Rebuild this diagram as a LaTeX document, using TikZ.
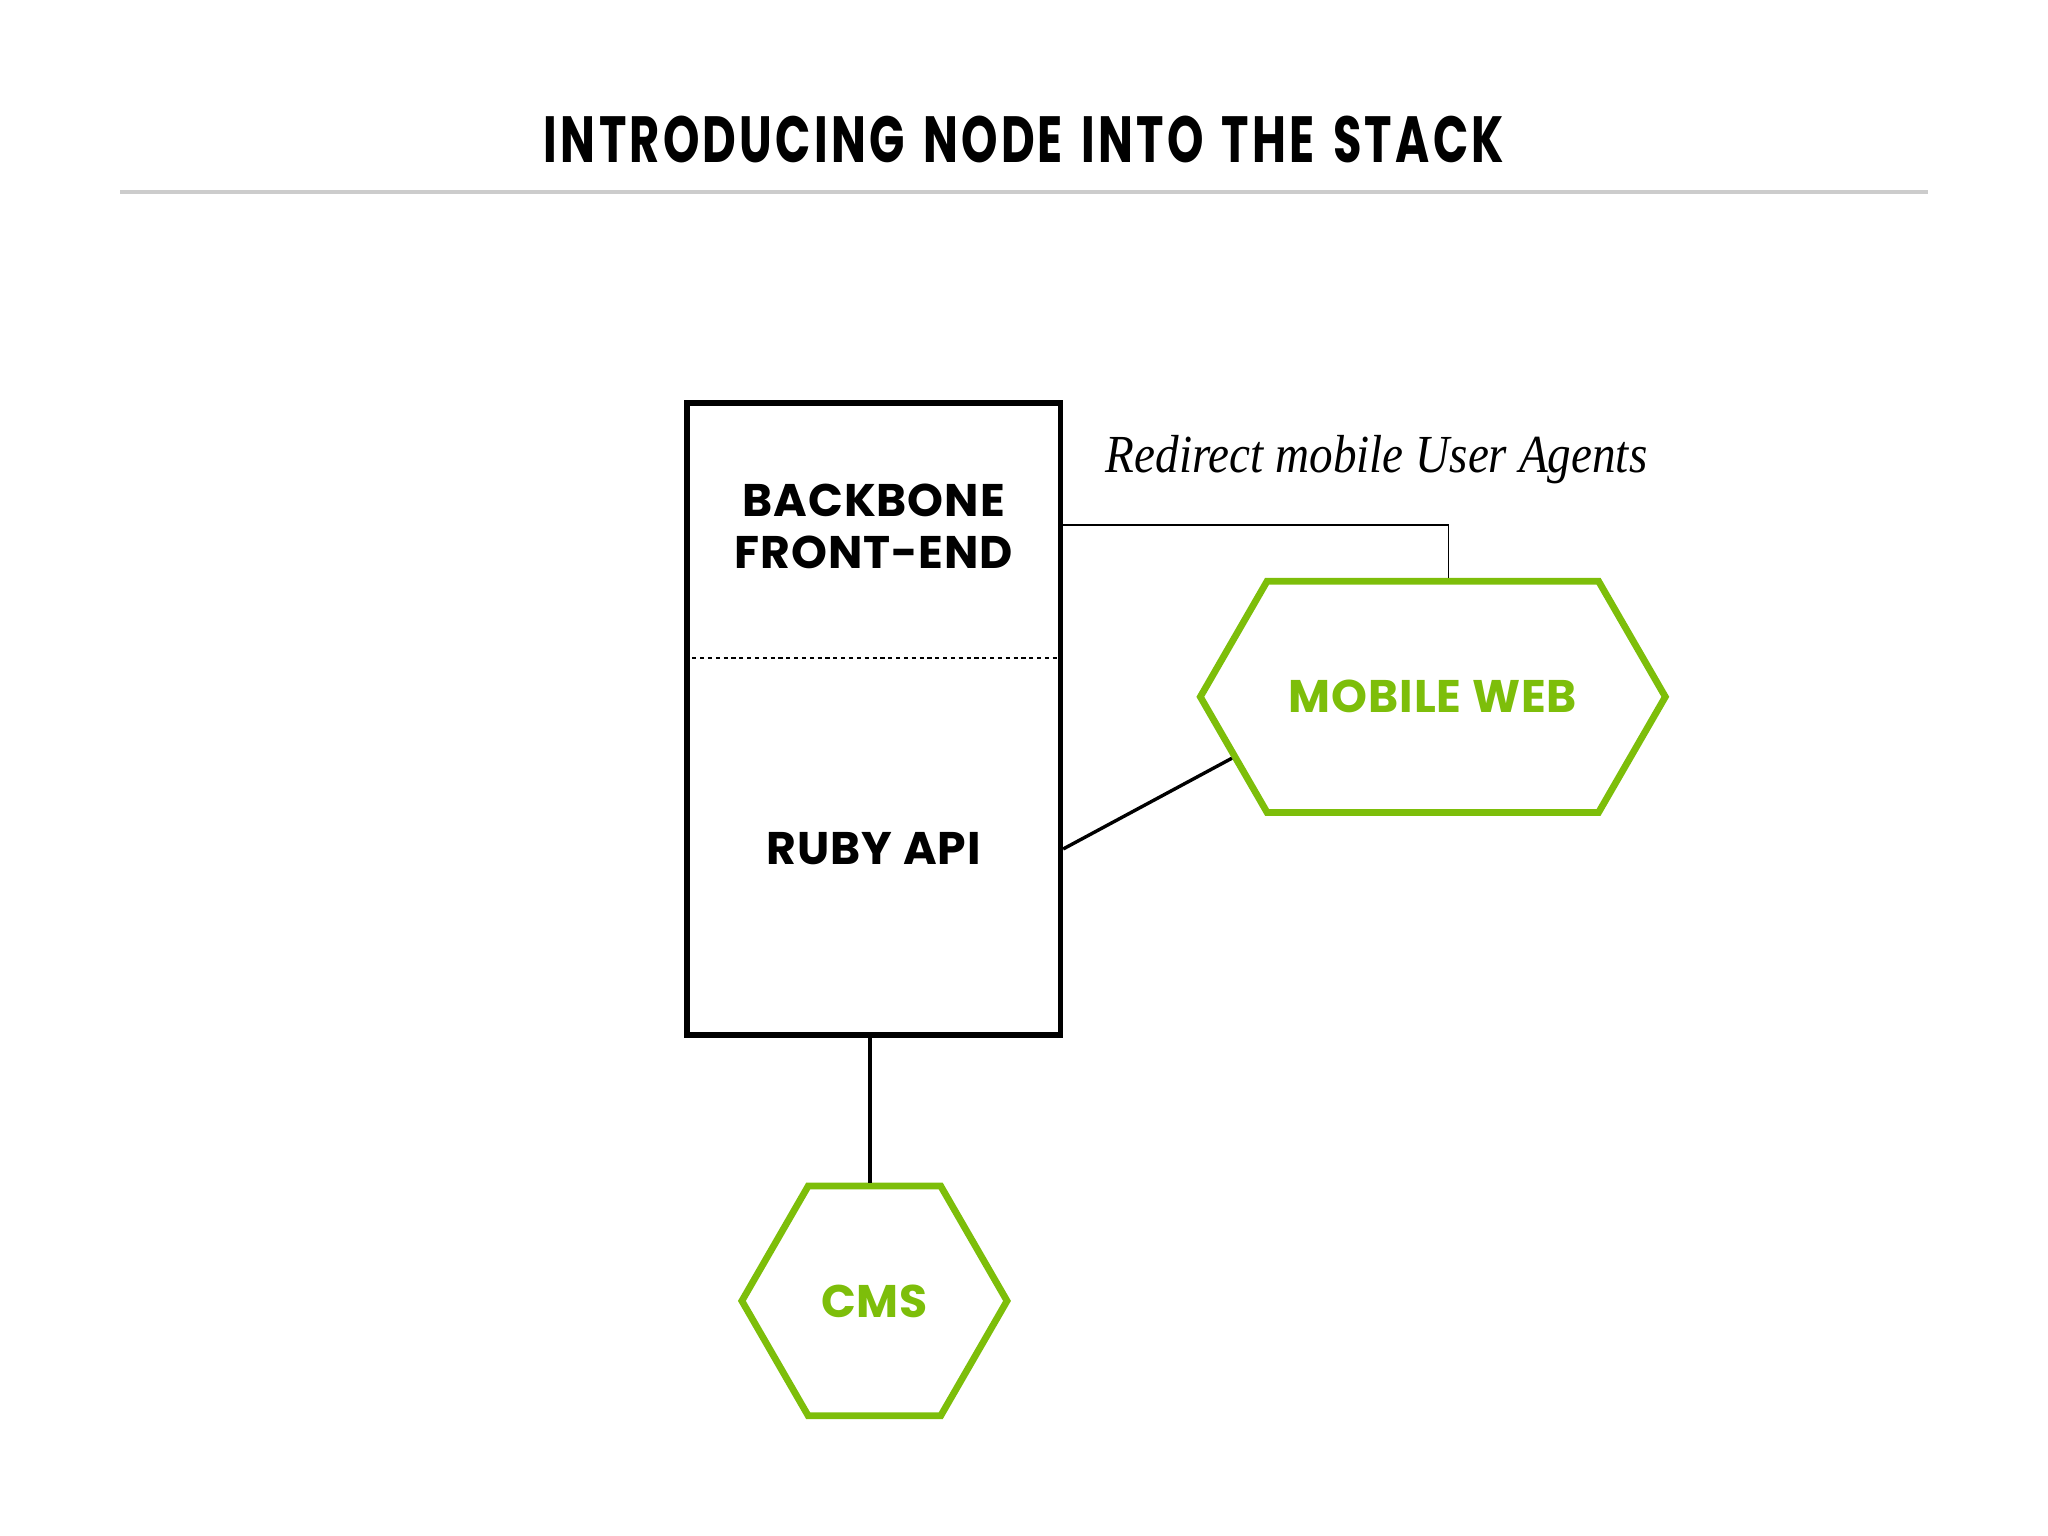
\documentclass[tikz,border=0pt]{standalone}
\usepackage{fontspec}
\usepackage{xcolor}
\usepackage{tikz}
\usetikzlibrary{positioning,calc,shapes.symbols}
\setmainfont{Liberation Serif}
\newfontfamily\headfont{Poppins}[FakeStretch=0.71,LetterSpace=5,WordSpace=1.4]
\newfontfamily\boxfont{Poppins}[LetterSpace=2]
\newfontfamily\notefont{Liberation Serif}[FakeStretch=0.88]
\definecolor{lime}{HTML}{7DBE0A}
\definecolor{rulegray}{HTML}{CCCCCC}

\begin{document}
\begin{tikzpicture}[
  x=0.5pt,y=-0.5pt,
  title/.style={font=\headfont\bfseries\fontsize{25}{30}\selectfont},
  layer/.style={draw=black,line width=2pt,minimum width=143pt,
               minimum height=242pt,inner sep=0pt},
  boxtext/.style={font=\boxfont\bfseries\fontsize{17.5}{20}\selectfont,align=center},
  hexa/.style={signal,signal to=west and east,signal pointer angle=120,
               draw=lime,line width=2.6pt,text=lime,inner sep=0pt,
               font=\boxfont\bfseries\fontsize{17.5}{20}\selectfont},
  link/.style={draw=black,line width=0.7pt},
  note/.style={font=\notefont\itshape\fontsize{20.5}{24}\selectfont}
]
\useasboundingbox (0,0) rectangle (1568,1176);
\node[title] (head) at (784,107) {INTRODUCING NODE INTO THE STACK};
\draw[rulegray,line width=1.6pt] (92,147) -- (1476,147);

\node[layer] (stack) at (669,550.5) {};
\draw[dash pattern=on 1.6pt off 1.4pt,line width=0.8pt] ($(stack.west)+(0,-46.5)$) -- ($(stack.east)+(0,-46.5)$);
\node[boxtext] (backbone) at (669,403) {BACKBONE\\FRONT-END};
\node[boxtext] (ruby) at (669,650) {RUBY API};

\node[hexa,minimum width=178pt,minimum height=88.5pt] (mobile) at (1097,533.5) {MOBILE WEB};
\node[hexa,minimum width=101.5pt,minimum height=88pt] (cms) at (669.5,996) {CMS};
\node[note] (redirect) at (1054,352) {Redirect mobile User Agents};

\coordinate (hook) at ($(mobile.north)+(12,0)$);
\draw[link] (stack.east |- 0,402) -| (hook);
\draw[link,line width=1.3pt] (stack.east |- 0,650) -- (mobile.197);
\draw[link,line width=1.3pt] (stack.south -| 666,0) -- (cms.north -| 666,0);
\end{tikzpicture}
\end{document}
